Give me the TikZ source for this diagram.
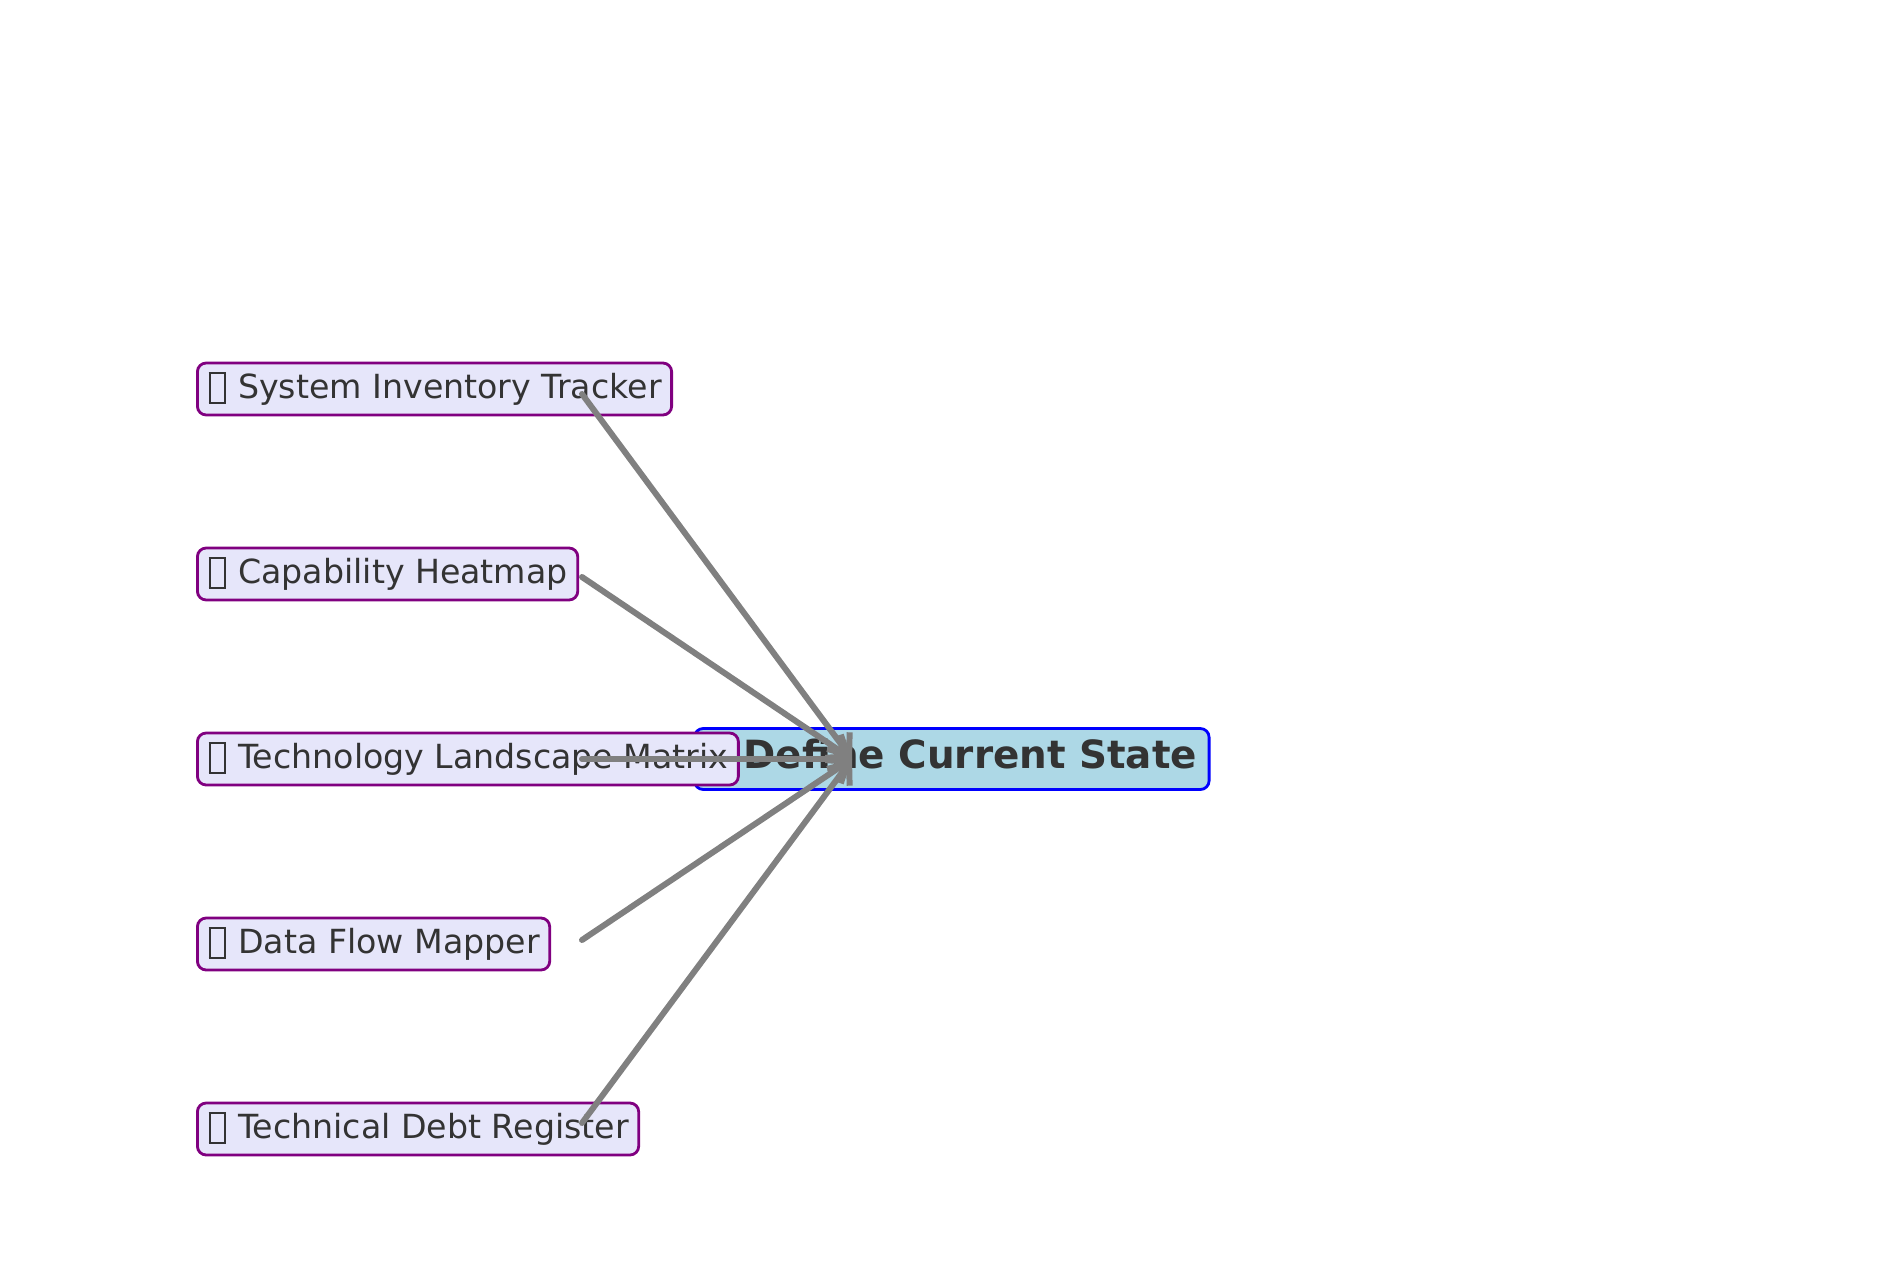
\documentclass[tikz,border=0pt]{standalone}
\usepackage{fontspec}
\setmainfont{DejaVu Sans}
\usetikzlibrary{arrows.meta}
\definecolor{txt}{HTML}{333333}
\definecolor{leaffill}{HTML}{E6E6FA}
\definecolor{statefill}{HTML}{ADD8E6}
\definecolor{leafline}{HTML}{800080}
\newcommand{\notdefbox}{\kern0.04em{\fboxsep=0pt\fboxrule=0.055em\fbox{\rule[-0.1em]{0pt}{0.84em}\hspace{0.4em}}}\kern0.06em}
\tikzset{
  leaf/.style={draw=leafline, fill=leaffill, line width=0.8pt, rounded corners=2.5pt,
    anchor=west, text=txt, font=\fontsize{9.45}{11}\selectfont, inner xsep=0.1cm, inner ysep=0pt,
    minimum height=0.52cm, text height=0.75em, text depth=0.2em},
  hub/.style={draw=blue, fill=statefill, line width=0.8pt, rounded corners=2.5pt,
    anchor=west, text=txt, font=\fontsize{11.06}{13}\selectfont\bfseries, inner xsep=0.12cm, inner ysep=0pt,
    minimum height=0.61cm, text height=0.75em, text depth=0.2em},
  feed/.style={draw=gray, line width=1.7pt, line cap=round, line join=round,
    -{Straight Barb[length=1.8mm,width=2.8mm]}}
}
\begin{document}
\begin{tikzpicture}
  \useasboundingbox (0,0) rectangle (19,12.72);

  \node[hub] (state) at (6.93,5.13) {\notdefbox{} Define Current State};

  \node[leaf] (sys)  at (1.96,8.83) {\notdefbox{} System Inventory Tracker};
  \node[leaf] (cap)  at (1.96,6.98) {\notdefbox{} Capability Heatmap};
  \node[leaf] (tech) at (1.96,5.13) {\notdefbox{} Technology Landscape Matrix};
  \node[leaf] (flow) at (1.96,3.28) {\notdefbox{} Data Flow Mapper};
  \node[leaf] (debt) at (1.96,1.43) {\notdefbox{} Technical Debt Register};

  \coordinate (sys-s)  at (5.82,8.78);
  \coordinate (cap-s)  at (5.82,6.95);
  \coordinate (tech-s) at (5.82,5.13);
  \coordinate (flow-s) at (5.82,3.32);
  \coordinate (debt-s) at (5.82,1.49);
  \coordinate (in) at (8.52,5.13);

  \draw[feed] (sys-s) -- (in);
  \draw[feed] (cap-s) -- (in);
  \draw[feed] (tech-s) -- (in);
  \draw[feed] (flow-s) -- (in);
  \draw[feed] (debt-s) -- (in);
\end{tikzpicture}
\end{document}
